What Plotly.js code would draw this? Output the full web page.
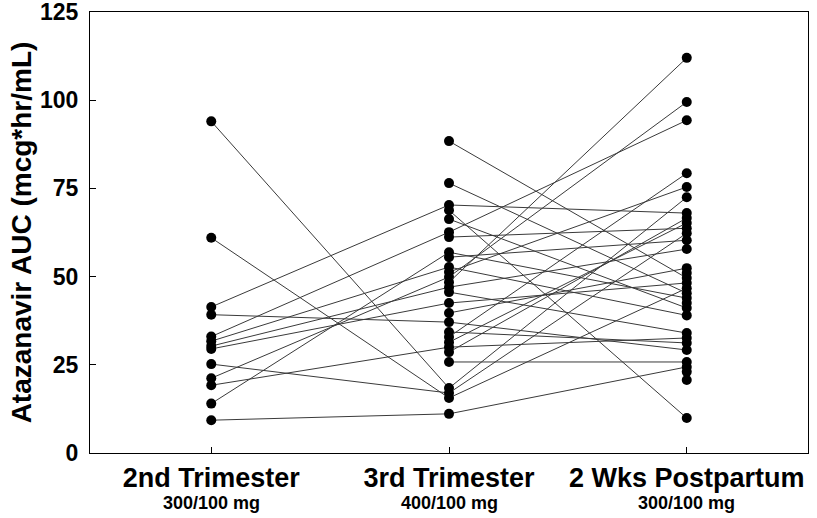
<!DOCTYPE html>
<html>
<head>
<meta charset="utf-8">
<script src="https://cdn.plot.ly/plotly-3.0.1.min.js"></script>
<style>html,body{margin:0;padding:0;background:#fff;}#chart{width:817px;height:518px;}</style>
</head>
<body>
<div id="chart"></div>
<script>
const categories = ["2nd Trimester", "3rd Trimester", "2 Wks Postpartum"];
const doses = ["300/100 mg", "400/100 mg", "300/100 mg"];
const trim2 = [94, 61, 41.4, 39.2, 33, 31.7, 30.3, 29.5, 25.2, 21.2, 19.2, 14, 9.3,
  null, null, null, null, null, null, null, null, null, null, null, null, null, null, null,
  null, null, null, null];
const trim3 = [18.4, 15.6, 70.3, 37.1, 62.6, 52.7, 47, 42.5, 17, 49.9, 30, 56.9, 11.1,
  88.4, 76.5, 68.8, 66.3, 61.2, 55.5, 51.3, 48.4, 45.6, 39.7, 34.3, 32.9, 31.4, 28.6, 25.8,
  null, null, null, null];
const postpartum = [72.5, 46.7, 68, 29.2, 94.3, 39, 57.8, 48.2, 62.3, 99.5, 32.6, 43.9, 24.4,
  49.6, 45.3, 9.9, 41.1, 63.7, 60.3, 75.4, 112, 34, 52.4, 31.2, 79.3, 65.2, 66.6, 25.8,
  51, 42.5, 23, 20.7];
const yTicks = [0, 25, 50, 75, 100, 125];

const FONT = 'Liberation Sans, Arial, sans-serif';
const traces = [];
for (let i = 0; i < postpartum.length; i++) {
  traces.push({
    x: [0, 1, 2],
    y: [trim2[i], trim3[i], postpartum[i]],
    type: 'scatter',
    mode: 'lines+markers',
    connectgaps: false,
    line: {color: '#3a3a3a', width: 1},
    marker: {color: '#000', size: 10},
    hoverinfo: 'y',
    showlegend: false
  });
}

const annotations = doses.map((d, i) => ({
  x: i, xref: 'x', y: 0, yref: 'paper',
  yanchor: 'middle', xanchor: 'center', yshift: -50,
  text: '<b>' + d + '</b>', showarrow: false,
  font: {size: 18, family: FONT, color: '#000'}
}));

const layout = {
  width: 817, height: 518,
  margin: {l: 90, r: 9, t: 12, b: 65},
  paper_bgcolor: '#fff', plot_bgcolor: '#fff',
  showlegend: false,
  font: {family: FONT, color: '#000'},
  annotations: annotations,
  xaxis: {
    range: [-0.51, 2.51],
    tickvals: [0, 1, 2],
    ticktext: categories.map(c => '<b>' + c + '</b>'),
    ticks: 'inside', ticklen: 6, tickcolor: '#000', tickwidth: 1,
    showline: true, linecolor: '#000', linewidth: 1, mirror: true,
    showgrid: false, zeroline: false,
    ticklabelstandoff: 1,
    ticklabeloverflow: 'allow',
    tickfont: {size: 27, family: FONT, color: '#000'},
    fixedrange: true
  },
  yaxis: {
    range: [0, 125],
    tickvals: yTicks,
    ticktext: yTicks.map(v => '<b>' + v + '</b>'),
    ticks: 'inside', ticklen: 6, tickcolor: '#000', tickwidth: 1,
    showline: true, linecolor: '#000', linewidth: 1, mirror: true,
    showgrid: false, zeroline: false,
    ticklabelstandoff: 6,
    ticklabeloverflow: 'allow',
    tickfont: {size: 23, family: FONT, color: '#000'},
    title: {text: '<b>Atazanavir AUC (mcg*hr/mL)</b>', font: {size: 28, family: FONT, color: '#000'}, standoff: 0},
    fixedrange: true
  }
};

Plotly.newPlot('chart', traces, layout, {displayModeBar: false, staticPlot: true});
</script>
</body>
</html>
